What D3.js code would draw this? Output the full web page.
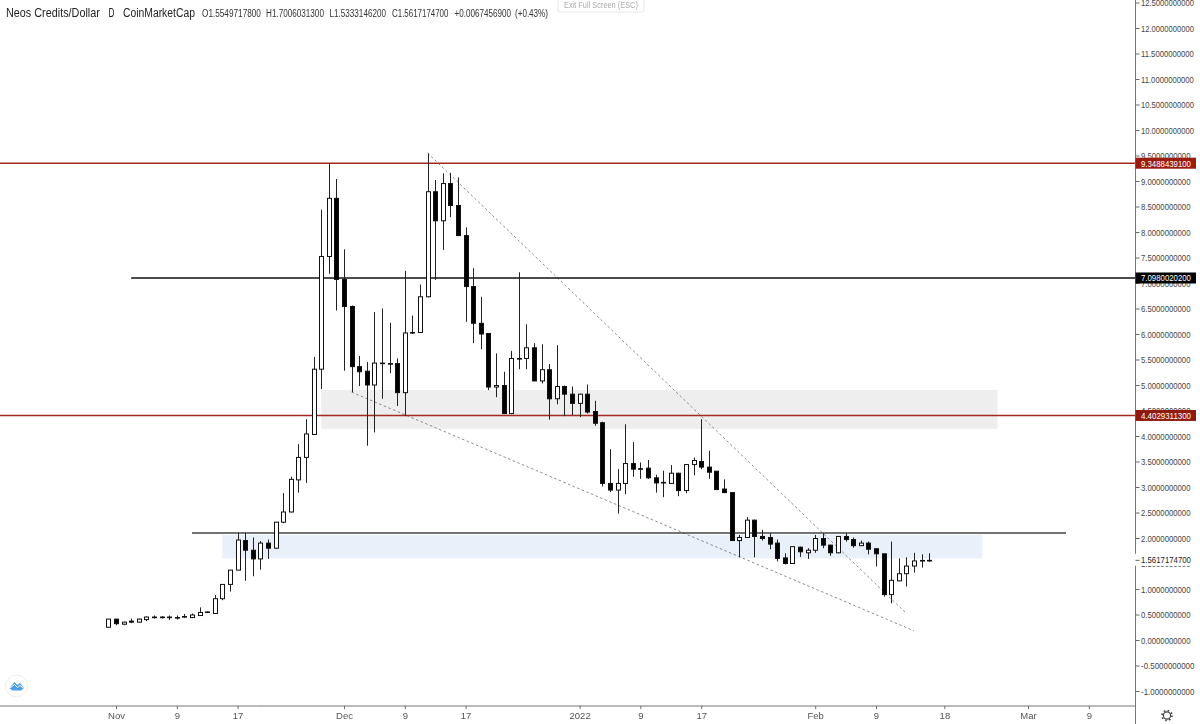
<!DOCTYPE html>
<html><head><meta charset="utf-8">
<script src="https://d3js.org/d3.v7.min.js"></script>
<style>
html,body{margin:0;padding:0;background:#fff;overflow:hidden}
svg{display:block;filter:blur(0.35px)}
text{font-family:"Liberation Sans",sans-serif}
</style></head><body>
<svg id="c" width="1200" height="724"></svg>
<script>
// ---- data ----
const startDate = "2021-10-31";
const open = [.25,.41,.31,.37,.35,.40,.44,.45,.44,.44,.45,.44,.48,.54,.52,.81,1.09,1.37,1.95,1.76,1.59,1.90,1.80,2.31,2.51,3.14,3.58,4.03,5.31,7.52,8.66,7.07,6.54,5.36,5.27,5.00,5.43,5.42,5.42,4.85,6.02,6.03,6.73,8.79,8.22,8.95,8.52,7.93,6.93,6.21,6.01,4.96,4.99,4.44,5.52,5.52,5.73,5.08,5.30,4.73,4.97,4.82,4.64,4.82,4.48,4.26,3.07,2.94,3.07,3.46,3.36,3.37,3.18,3.08,3.07,3.27,2.93,3.44,3.50,3.39,3.31,2.96,2.89,1.95,2.01,2.35,2.03,2.01,1.90,1.61,1.50,1.82,1.71,1.76,1.99,1.86,1.71,2.03,1.97,1.85,1.90,1.79,1.69,.89,1.16,1.30,1.45,1.55,1.5549717800];
const close = [.41,.32,.35,.35,.41,.45,.45,.44,.45,.44,.46,.49,.54,.55,.81,1.09,1.37,1.96,1.76,1.59,1.90,1.80,2.31,2.51,3.15,3.58,4.04,5.31,7.52,8.66,7.07,6.54,5.36,5.26,5.00,5.43,5.42,5.41,4.85,6.02,6.03,6.73,8.79,8.22,8.95,8.52,7.93,6.93,6.21,6.00,4.96,4.99,4.44,5.52,5.51,5.73,5.08,5.30,4.73,4.97,4.82,4.64,4.82,4.47,4.25,3.07,2.94,3.07,3.46,3.35,3.35,3.18,3.08,3.09,3.27,2.93,3.44,3.52,3.39,3.29,2.95,2.89,1.95,2.01,2.35,2.03,1.99,1.88,1.60,1.50,1.83,1.73,1.76,1.99,1.86,1.71,2.03,1.97,1.85,1.90,1.78,1.69,.89,1.17,1.30,1.45,1.55,1.56,1.5617174700];
const high = [.41,.41,.36,.42,.42,.46,.48,.47,.48,.48,.51,.52,.64,.56,.88,1.09,1.37,2.10,2.10,2.01,1.94,1.97,2.31,2.88,3.20,3.84,4.33,5.55,8.44,9.35,9.04,7.66,6.56,5.57,5.45,6.43,6.50,6.22,5.52,7.24,6.36,6.97,9.54,9.02,9.15,9.16,9.07,8.09,7.29,6.73,6.02,5.62,5.26,5.67,7.21,6.19,5.82,5.80,5.41,5.78,4.99,4.97,4.83,5.01,4.69,4.28,3.74,3.35,4.23,3.88,3.48,3.53,3.24,3.32,3.43,3.28,3.45,3.58,4.33,3.71,3.31,3.15,2.90,2.06,2.41,2.36,2.16,2.09,1.97,1.70,1.84,1.83,1.80,2.06,2.09,1.87,2.04,2.09,2.01,1.95,1.93,1.79,1.69,1.93,1.60,1.62,1.71,1.68,1.7006031300];
const low = [.25,.29,.29,.33,.34,.37,.42,.42,.39,.40,.43,.43,.47,.53,.52,.78,.95,1.37,1.16,1.25,1.38,1.59,1.79,2.29,2.50,2.89,3.08,4.03,4.92,7.18,6.46,5.28,4.86,4.98,3.81,4.07,4.73,5.23,4.59,4.39,6.00,6.02,6.72,7.06,7.65,8.29,7.92,6.24,5.82,5.70,4.90,4.76,4.43,4.43,5.31,5.31,5.07,5.03,4.32,4.62,4.39,4.41,4.37,4.44,4.20,3.01,2.90,2.48,2.86,3.20,3.16,3.16,2.89,2.80,3.06,2.82,2.88,3.23,3.35,3.16,2.94,2.88,1.94,1.62,2.00,1.62,1.95,1.78,1.54,1.48,1.49,1.63,1.59,1.71,1.80,1.65,1.70,1.93,1.81,1.85,1.68,1.44,.85,.72,1.15,1.05,1.32,1.42,1.5333146200];

const priceTicks = [-1,-.5,0,.5,1,1.5,2,2.5,3,3.5,4,4.5,5,5.5,6,6.5,7,7.5,8,8.5,9,9.5,10,10.5,11,11.5,12,12.5];
const dateTicks = ["2021-11-01","2021-11-09","2021-11-17","2021-12-01","2021-12-09","2021-12-17","2022-01-01","2022-01-09","2022-01-17","2022-02-01","2022-02-09","2022-02-18","2022-03-01","2022-03-09"];
const dateLabels = ["Nov","9","17","Dec","9","17","2022","9","17","Feb","9","18","Mar","9"];
const header = [["Neos Credits/Dollar",6,94,12.5],["D",108.5,6,12.5],["CoinMarketCap",123,72,12.5],["O1.5549717800",202,59,10],["H1.7006031300",266,58,10],["L1.5333146200",329.5,56.5,10],["C1.5617174700",392,56.5,10],["+0.0067456900",454.5,56.5,10],["(+0.43%)",515,33,10]];
const zoneTops = [4.90,2.06], zoneBottoms = [4.14,1.60];
const zoneStarts = ["2021-11-28","2021-11-15"], zoneEnds = ["2022-02-25","2022-02-23"];
const zoneColors = ["#eeeeef","#e9f0f9"];
const levelPrices = [9.3488439100,7.0980020200,4.4029311300];
const levelStarts = [null,"2021-11-03",null];
const levelColors = ["#a32a20","#111111","#a32a20"];
const levelLabelFill = ["#9a1b10","#000000","#8f1b10"];
const supportPrice = 2.10, supportStart = "2021-11-11", supportEnd = "2022-03-06";
const trendStarts = ["2021-12-12","2021-12-02"], trendEnds = ["2022-02-13","2022-02-14"];
const trendFrom = [9.55,4.86], trendTo = [.52,.18];

// ---- scales ----
const D = s => new Date(s + "T00:00:00Z");
const start = D(startDate);
const dates = open.map((_, i) => d3.utcDay.offset(start, i));
const x = d3.scaleUtc().domain([start, D("2022-03-15")]).range([108.4, 1134.4]);
const y = d3.scaleLinear().domain([0, 12]).range([640, 28]);
const W = 1135.5, AXY = 706;

// squeeze a text to a given on-screen width while keeping its real box
function fit(t, px, py, len){
  const n = t.node();
  t.attr("x",0).attr("y",0).attr("dy",null);
  const k = len / n.getComputedTextLength();
  t.attr("transform",`translate(${px},${py}) scale(${k},1)`);
  return t;
}

const svg = d3.select("#c");
// zones
svg.append("g").selectAll("rect").data(zoneTops).join("rect")
  .attr("x",(d,i)=>x(D(zoneStarts[i]))).attr("width",(d,i)=>x(D(zoneEnds[i]))-x(D(zoneStarts[i])))
  .attr("y",d=>y(d)).attr("height",(d,i)=>y(zoneBottoms[i])-y(d))
  .attr("fill",(d,i)=>zoneColors[i]);
// trend lines
svg.append("g").selectAll("line").data(trendFrom).join("line")
  .attr("x1",(d,i)=>x(D(trendStarts[i]))).attr("y1",d=>y(d))
  .attr("x2",(d,i)=>x(D(trendEnds[i]))).attr("y2",(d,i)=>y(trendTo[i]))
  .attr("stroke","#8a8a8a").attr("stroke-width",1).attr("stroke-dasharray","2.5,2.5");
// support line
svg.append("line").attr("x1",x(D(supportStart))).attr("x2",x(D(supportEnd)))
  .attr("y1",y(supportPrice)).attr("y2",y(supportPrice)).attr("stroke","#444").attr("stroke-width",1.5);
// horizontal levels
svg.append("g").selectAll("line").data(levelPrices).join("line")
  .attr("x1",(d,i)=>levelStarts[i]?x(D(levelStarts[i])):0).attr("x2",W)
  .attr("y1",d=>y(d)).attr("y2",d=>y(d))
  .attr("stroke",(d,i)=>levelColors[i]).attr("stroke-width",1.5);
// candles
const cg = svg.append("g");
dates.forEach((d,i)=>{
  const cx = Math.round(x(d))+.5;
  const up = close[i] >= open[i];
  cg.append("line").attr("x1",cx).attr("x2",cx).attr("y1",y(high[i])).attr("y2",y(low[i]))
    .attr("stroke","#222").attr("stroke-width",1);
  const top = y(Math.max(open[i],close[i])), bot = y(Math.min(open[i],close[i]));
  const h = Math.max(bot-top,.6);
  cg.append("rect").attr("x",cx-2).attr("width",4).attr("y",top).attr("height",h)
    .attr("fill",up?"#fff":"#000").attr("stroke","#111").attr("stroke-width",1);
});
// price axis
svg.append("rect").attr("x",W).attr("y",0).attr("width",65).attr("height",AXY).attr("fill","#fff");
const yAxis = d3.axisRight(y).tickValues(priceTicks).tickFormat(d=>d.toFixed(10)).tickSize(4).tickPadding(2);
const gy = svg.append("g").attr("transform",`translate(${W},0)`).call(yAxis);
gy.select(".domain").remove();
gy.selectAll(".tick line").attr("stroke","#666");
gy.selectAll(".tick text").attr("fill","#444").attr("font-size",9.5).attr("font-family",null)
  .each(function(d){ fit(d3.select(this),5.5,3.4,d<0?53.5:d>=10?53:49.5); });
svg.append("line").attr("x1",W).attr("x2",W).attr("y1",0).attr("y2",724).attr("stroke","#777").attr("stroke-width",1);
// level labels
levelPrices.forEach((p,i)=>{
  svg.append("rect").attr("x",W).attr("y",y(p)-5.5).attr("width",60.5).attr("height",11).attr("fill",levelLabelFill[i]);
  fit(svg.append("text").attr("fill","#fff").attr("font-size",9.5).text(p.toFixed(10)),1141,y(p)+3.4,50);
});
// current price label
const last = close[close.length-1];
svg.append("rect").attr("x",W-.5).attr("y",y(last)-6.5).attr("width",61).attr("height",12).attr("fill","#fff");
svg.append("line").attr("x1",W).attr("x2",W+4).attr("y1",y(last)).attr("y2",y(last)).attr("stroke","#666");
fit(svg.append("text").attr("fill","#222").attr("font-size",9.5).text(last.toFixed(10)),1141,y(last)+3,50);
// time axis
svg.append("rect").attr("x",0).attr("y",AXY).attr("width",1135).attr("height",18).attr("fill","#fff");
const xAxis = d3.axisBottom(x).tickValues(dateTicks.map(D)).tickFormat((d,i)=>dateLabels[i]).tickSize(3).tickPadding(2);
const gx = svg.append("g").attr("transform",`translate(0,${AXY})`).call(xAxis);
gx.select(".domain").remove();
gx.selectAll(".tick line").attr("stroke","#666");
gx.selectAll(".tick text").attr("fill","#555").attr("font-size",9.5).attr("font-family",null).attr("y",6);
svg.append("line").attr("x1",0).attr("x2",W).attr("y1",AXY).attr("y2",AXY).attr("stroke","#777").attr("stroke-width",1);
// header
header.forEach(([t,px,len,fs])=>{
  fit(svg.append("text").attr("fill",fs>11?"#222":"#333").attr("font-size",fs).text(t),px,fs>11?17:16.5,len);
});
// exit full screen hint
svg.append("rect").attr("x",558).attr("y",-2).attr("width",86).attr("height",14).attr("fill","#fff").attr("stroke","#e6e6e6").attr("rx",2);
fit(svg.append("text").attr("fill","#aaa").attr("font-size",8.5).text("Exit Full Screen (ESC)"),564,8,74);
// logo
svg.append("circle").attr("cx",16.5).attr("cy",686).attr("r",11).attr("fill","#fff").attr("stroke","#f1ece4");
svg.append("path").attr("d","M9.5 688 L14.5 682 L17.5 685 L20 683 L24 688 L21 690.5 L12 690.5 Z").attr("fill","#4c9fe6");
svg.append("path").attr("d","M10 688 L14.5 684.5 L17.5 687.5 L20 685.5 L23.5 688").attr("fill","none").attr("stroke","#fff").attr("stroke-width",1);
// gear
svg.append("circle").attr("cx",1167).attr("cy",715.5).attr("r",3.6).attr("fill","#fff").attr("stroke","#444").attr("stroke-width",1.2);
svg.append("circle").attr("cx",1167).attr("cy",715.5).attr("r",5).attr("fill","none").attr("stroke","#444").attr("stroke-width",1.6).attr("stroke-dasharray","1.6,2.33");
</script></body></html>
